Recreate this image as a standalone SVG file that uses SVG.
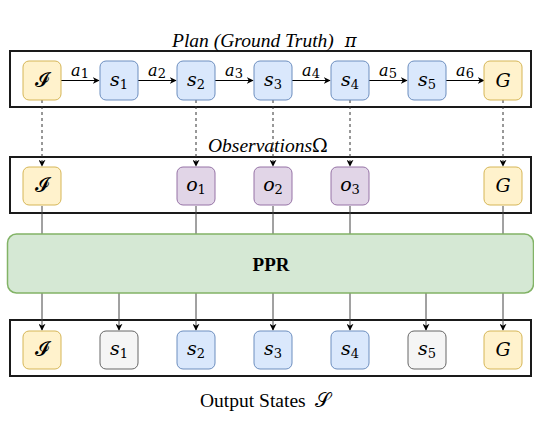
<svg xmlns="http://www.w3.org/2000/svg" width="534" height="434" viewBox="0 0 534 434">
<defs>
<marker id="arr" viewBox="0 0 10 10" refX="9" refY="5" markerWidth="7" markerHeight="7" markerUnits="userSpaceOnUse" orient="auto">
<path d="M0,0 L10,5 L0,10 L3,5 Z" fill="#000"/>
</marker>
</defs>
<style>
.frame{fill:#fff;stroke:#1a1a1a;stroke-width:2}
.n{stroke-width:1}
.y{fill:#fff2cc;stroke:#d6b656}
.b{fill:#dae8fc;stroke:#6c8ebf}
.p{fill:#e1d5e7;stroke:#9673a6}
.g{fill:#f5f5f5;stroke:#666666}
.m{font-family:"DejaVu Serif","Liberation Serif",serif;font-style:italic;font-size:19px;fill:#000;text-anchor:middle}
.sub{font-style:normal;font-size:13px}
.lab{font-family:"DejaVu Serif","Liberation Serif",serif;font-style:italic;font-size:16px;fill:#000;text-anchor:middle}
.cal{font-family:"DejaVu Sans","Noto Sans",serif;font-style:normal;font-size:20px;fill:#000;text-anchor:middle}
.title{font-family:"Liberation Serif",serif;font-size:19.5px;fill:#000}
.solid{stroke:#000;stroke-width:1.2;fill:none}
.dash{stroke:#333;stroke-width:1;stroke-dasharray:3 3;fill:none}
.gl{stroke:#444;stroke-width:1;fill:none}
</style>

<rect class="frame" x="10" y="51" width="521" height="56"/>
<rect class="frame" x="10" y="157" width="521" height="56"/>
<rect class="frame" x="10" y="320" width="521" height="56"/>

<text class="title" x="172" y="47" font-style="italic">Plan (Ground Truth) <tspan font-style="italic" font-family="DejaVu Serif" font-size="18" dx="6">π</tspan></text>
<text class="title" x="208" y="152" font-style="italic">Observations<tspan font-style="normal" font-family="DejaVu Serif" font-size="19">Ω</tspan></text>
<text class="title" x="200" y="407">Output States<tspan class="cal" font-size="21" text-anchor="start" dx="9">𝒮</tspan></text>

<g id="connectors">
<line class="solid" x1="61" y1="80.5" x2="99" y2="80.5" marker-end="url(#arr)"/>
<line class="solid" x1="138" y1="80.5" x2="176" y2="80.5" marker-end="url(#arr)"/>
<line class="solid" x1="215" y1="80.5" x2="253" y2="80.5" marker-end="url(#arr)"/>
<line class="solid" x1="292" y1="80.5" x2="330" y2="80.5" marker-end="url(#arr)"/>
<line class="solid" x1="369" y1="80.5" x2="407" y2="80.5" marker-end="url(#arr)"/>
<line class="solid" x1="446" y1="80.5" x2="484" y2="80.5" marker-end="url(#arr)"/>
<text class="lab" x="80" y="76">a<tspan class="sub" font-size="11" dy="2">1</tspan></text>
<text class="lab" x="157" y="76">a<tspan class="sub" font-size="11" dy="2">2</tspan></text>
<text class="lab" x="234" y="76">a<tspan class="sub" font-size="11" dy="2">3</tspan></text>
<text class="lab" x="311" y="76">a<tspan class="sub" font-size="11" dy="2">4</tspan></text>
<text class="lab" x="388" y="76">a<tspan class="sub" font-size="11" dy="2">5</tspan></text>
<text class="lab" x="465" y="76">a<tspan class="sub" font-size="11" dy="2">6</tspan></text>

<line class="dash" x1="42" y1="100" x2="42" y2="166" marker-end="url(#arr)"/>
<line class="dash" x1="196" y1="100" x2="196" y2="166" marker-end="url(#arr)"/>
<line class="dash" x1="273" y1="100" x2="273" y2="166" marker-end="url(#arr)"/>
<line class="dash" x1="350" y1="100" x2="350" y2="166" marker-end="url(#arr)"/>
<line class="dash" x1="503" y1="100" x2="503" y2="166" marker-end="url(#arr)"/>

<line class="gl" x1="42" y1="206" x2="42" y2="234"/>
<line class="gl" x1="196" y1="206" x2="196" y2="234"/>
<line class="gl" x1="273" y1="206" x2="273" y2="234"/>
<line class="gl" x1="350" y1="206" x2="350" y2="234"/>
<line class="gl" x1="503" y1="206" x2="503" y2="234"/>

<line class="gl" x1="42" y1="293" x2="42" y2="330" marker-end="url(#arr)"/>
<line class="gl" x1="119" y1="293" x2="119" y2="330" marker-end="url(#arr)"/>
<line class="gl" x1="196" y1="293" x2="196" y2="330" marker-end="url(#arr)"/>
<line class="gl" x1="273" y1="293" x2="273" y2="330" marker-end="url(#arr)"/>
<line class="gl" x1="350" y1="293" x2="350" y2="330" marker-end="url(#arr)"/>
<line class="gl" x1="426" y1="293" x2="426" y2="330" marker-end="url(#arr)"/>
<line class="gl" x1="503" y1="293" x2="503" y2="330" marker-end="url(#arr)"/>
</g>

<g id="plan-I"><rect class="n y" x="23" y="61" width="38" height="39" rx="6"/><text class="cal" x="42" y="87">𝓘</text></g>
<g id="plan-s1"><rect class="n b" x="100" y="61" width="38" height="39" rx="6"/><text class="m" x="119" y="86">s<tspan class="sub" dy="3">1</tspan></text></g>
<g id="plan-s2"><rect class="n b" x="177" y="61" width="38" height="39" rx="6"/><text class="m" x="196" y="86">s<tspan class="sub" dy="3">2</tspan></text></g>
<g id="plan-s3"><rect class="n b" x="254" y="61" width="38" height="39" rx="6"/><text class="m" x="273" y="86">s<tspan class="sub" dy="3">3</tspan></text></g>
<g id="plan-s4"><rect class="n b" x="331" y="61" width="38" height="39" rx="6"/><text class="m" x="350" y="86">s<tspan class="sub" dy="3">4</tspan></text></g>
<g id="plan-s5"><rect class="n b" x="408" y="61" width="38" height="39" rx="6"/><text class="m" x="427" y="86">s<tspan class="sub" dy="3">5</tspan></text></g>
<g id="plan-G"><rect class="n y" x="484" y="61" width="38" height="39" rx="6"/><text class="m" x="503" y="87">G</text></g>

<g id="obs-I"><rect class="n y" x="23" y="167" width="38" height="38" rx="6"/><text class="cal" x="42" y="192">𝓘</text></g>
<g id="obs-o1"><rect class="n p" x="177" y="167" width="38" height="38" rx="6"/><text class="m" x="196" y="191">o<tspan class="sub" dy="3">1</tspan></text></g>
<g id="obs-o2"><rect class="n p" x="254" y="167" width="38" height="38" rx="6"/><text class="m" x="273" y="191">o<tspan class="sub" dy="3">2</tspan></text></g>
<g id="obs-o3"><rect class="n p" x="331" y="167" width="38" height="38" rx="6"/><text class="m" x="350" y="191">o<tspan class="sub" dy="3">3</tspan></text></g>
<g id="obs-G"><rect class="n y" x="484" y="167" width="38" height="38" rx="6"/><text class="m" x="503" y="192">G</text></g>

<g id="ppr"><rect x="7.5" y="234" width="526" height="59" rx="9" fill="#d5e8d4" stroke="#82b366" stroke-width="1.5"/><text x="271" y="271" font-family="Liberation Serif,serif" font-weight="bold" font-size="19" text-anchor="middle">PPR</text></g>

<g id="out-I"><rect class="n y" x="23" y="331" width="38" height="38" rx="6"/><text class="cal" x="42" y="356">𝓘</text></g>
<g id="out-s1"><rect class="n g" x="100" y="331" width="38" height="38" rx="6"/><text class="m" x="119" y="355" fill="#333">s<tspan class="sub" dy="3">1</tspan></text></g>
<g id="out-s2"><rect class="n b" x="177" y="331" width="38" height="38" rx="6"/><text class="m" x="196" y="355">s<tspan class="sub" dy="3">2</tspan></text></g>
<g id="out-s3"><rect class="n b" x="254" y="331" width="38" height="38" rx="6"/><text class="m" x="273" y="355">s<tspan class="sub" dy="3">3</tspan></text></g>
<g id="out-s4"><rect class="n b" x="331" y="331" width="38" height="38" rx="6"/><text class="m" x="350" y="355">s<tspan class="sub" dy="3">4</tspan></text></g>
<g id="out-s5"><rect class="n g" x="408" y="331" width="38" height="38" rx="6"/><text class="m" x="427" y="355" fill="#333">s<tspan class="sub" dy="3">5</tspan></text></g>
<g id="out-G"><rect class="n y" x="484" y="331" width="38" height="38" rx="6"/><text class="m" x="503" y="356">G</text></g>
</svg>
